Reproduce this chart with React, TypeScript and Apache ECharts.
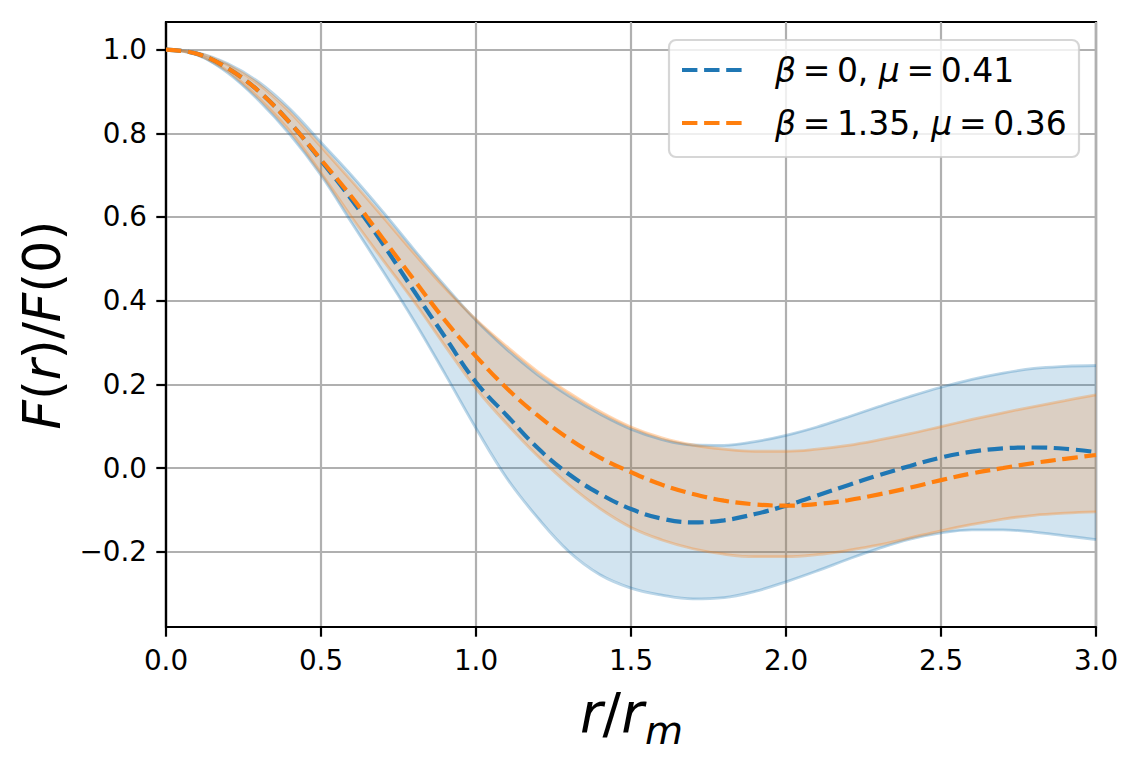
import React, { useEffect, useRef } from "react";
import * as echarts from "echarts";

// r / r_m sample positions
const rValues = [
  0.0, 0.1, 0.2, 0.3, 0.4, 0.5, 0.6, 0.7, 0.8, 0.9, 1.0, 1.1, 1.2, 1.3, 1.4, 1.5,
  1.6, 1.7, 1.8, 1.9, 2.0, 2.1, 2.2, 2.3, 2.4, 2.5, 2.6, 2.7, 2.8, 2.9, 3.0,
];

// beta = 0, mu = 0.41
const meanA = [
  1.0, 0.99, 0.955, 0.9, 0.825, 0.735, 0.64, 0.535, 0.423, 0.313, 0.205, 0.125,
  0.047, -0.015, -0.062, -0.098, -0.121, -0.13, -0.125, -0.11, -0.09, -0.066,
  -0.041, -0.017, 0.005, 0.025, 0.039, 0.047, 0.049, 0.046, 0.038,
];
const upperA = [
  1.0, 0.993, 0.966, 0.922, 0.858, 0.778, 0.698, 0.612, 0.522, 0.435, 0.353,
  0.283, 0.222, 0.172, 0.129, 0.093, 0.068, 0.055, 0.054, 0.063, 0.078, 0.098,
  0.122, 0.147, 0.171, 0.193, 0.212, 0.227, 0.238, 0.243, 0.245,
];
const lowerA = [
  1.0, 0.987, 0.944, 0.878, 0.797, 0.7, 0.585, 0.47, 0.352, 0.225, 0.095,
  -0.025, -0.12, -0.2, -0.255, -0.287, -0.304, -0.313, -0.31, -0.295, -0.272,
  -0.246, -0.218, -0.192, -0.17, -0.155, -0.148, -0.148, -0.153, -0.162, -0.171,
];

// beta = 1.35, mu = 0.36
const meanB = [
  1.0, 0.99, 0.955, 0.9, 0.825, 0.737, 0.647, 0.548, 0.45, 0.353, 0.267, 0.19,
  0.125, 0.07, 0.025, -0.01, -0.04, -0.062, -0.078, -0.087, -0.09, -0.086,
  -0.077, -0.063, -0.047, -0.029, -0.013, 0.0, 0.012, 0.022, 0.031,
];
const upperB = [
  1.0, 0.992, 0.963, 0.917, 0.85, 0.768, 0.685, 0.6, 0.513, 0.43, 0.355, 0.29,
  0.23, 0.18, 0.135, 0.098, 0.072, 0.055, 0.045, 0.04, 0.04, 0.045, 0.054, 0.067,
  0.082, 0.099, 0.116, 0.132, 0.147, 0.161, 0.175,
];
const lowerB = [
  1.0, 0.988, 0.948, 0.884, 0.805, 0.705, 0.598, 0.497, 0.398, 0.292, 0.19,
  0.105, 0.028, -0.04, -0.097, -0.142, -0.172, -0.193, -0.206, -0.212, -0.212,
  -0.207, -0.197, -0.184, -0.167, -0.15, -0.135, -0.122, -0.113, -0.108, -0.105,
];

const yTicks = [-0.2, 0.0, 0.2, 0.4, 0.6, 0.8, 1.0];
const labelA = "β\u2009=\u20090, μ\u2009=\u20090.41";
const labelB = "β\u2009=\u20091.35, μ\u2009=\u20090.36";

const C0 = "#1f77b4";
const C1 = "#ff7f0e";
const RGB0 = "31,119,180";
const RGB1 = "255,127,14";
const FONT = "DejaVu Sans";
const DASH = [15.4, 6.7];
const LW = 4.2;
const THIN = 2.2;

const pairs = (ys: number[]) => rValues.map((x, i) => [x, ys[i]]);

const fmtTick = (v: number) =>
  (v < -1e-9 ? "\u2212" : "") + Math.abs(v).toFixed(1);

// translucent band between lower and upper curves (fill + soft edges)
function band(key: string, lo: number[], hi: number[], rgb: string) {
  const edge = {
    type: "line",
    smooth: 0.4,
    symbol: "none",
    silent: true,
    lineStyle: { color: `rgba(${rgb},0.3)`, width: 2.8 },
    z: 3,
  };
  return [
    {
      name: `${key}-fill`,
      type: "custom",
      silent: true,
      clip: true,
      z: 2,
      data: [[0, 0]],
      encode: { x: 0, y: 1 },
      renderItem: (_params: any, api: any) => {
        const top = hi.map((v, i) => api.coord([rValues[i], v]));
        const bottom = lo.map((v, i) => api.coord([rValues[i], v])).reverse();
        return {
          type: "polygon",
          shape: { points: top.concat(bottom) },
          style: { fill: `rgba(${rgb},0.2)`, stroke: "none" },
        };
      },
    },
    { ...edge, name: `${key}-upper`, data: pairs(hi) },
    { ...edge, name: `${key}-lower`, data: pairs(lo) },
  ];
}

function meanLine(name: string, ys: number[], color: string, z: number) {
  return {
    name,
    type: "line",
    data: pairs(ys),
    smooth: 0.4,
    symbol: "none",
    silent: true,
    itemStyle: { color },
    lineStyle: { color, width: LW, type: DASH },
    z,
  };
}

function legendRow(y: number, color: string, label: string) {
  return [
    {
      type: "line",
      z: 100,
      silent: true,
      shape: { x1: 682, y1: y, x2: 748, y2: y },
      style: { stroke: color, lineWidth: LW, lineDash: DASH, lineCap: "butt" },
    },
    {
      type: "text",
      z: 101,
      silent: true,
      x: 775,
      y,
      style: {
        text: label.replace("β", "{i|β}").replace("μ", "{i|μ}"),
        fontFamily: FONT,
        fontSize: 33,
        fill: "#000",
        align: "left",
        verticalAlign: "middle",
        rich: { i: { fontFamily: FONT, fontSize: 33, fontStyle: "italic" } },
      },
    },
  ];
}

export default function App() {
  const ref = useRef<HTMLDivElement>(null);

  useEffect(() => {
    if (!ref.current) return;
    const chart = echarts.init(ref.current, null, { renderer: "svg" });
    const axisLabel = {
      fontSize: 27.8,
      fontFamily: FONT,
      color: "#000",
      margin: 19,
      formatter: fmtTick,
    };
    const axisLine = { show: true, onZero: false, lineStyle: { color: "#000", width: THIN } };
    const tick = { show: true, length: 9.7, lineStyle: { color: "#000", width: THIN } };
    const split = { show: true, lineStyle: { color: "#b0b0b0", width: THIN } };

    chart.setOption({
      animation: false,
      backgroundColor: "#fff",
      grid: {
        left: 166,
        top: 22,
        width: 930,
        height: 605,
        show: true,
        borderColor: "#000",
        borderWidth: THIN,
        backgroundColor: "transparent",
      },
      xAxis: {
        type: "value",
        min: 0,
        max: 3,
        interval: 0.5,
        axisLine,
        axisTick: tick,
        axisLabel,
        splitLine: split,
      },
      yAxis: {
        type: "value",
        min: -0.38,
        max: 1.066,
        splitNumber: 7,
        axisLine,
        axisTick: { ...tick, customValues: yTicks },
        axisLabel: { ...axisLabel, customValues: yTicks },
        splitLine: split,
      },
      graphic: [
        {
          type: "rect",
          z: 99,
          silent: true,
          shape: { x: 669, y: 40, width: 410, height: 117, r: 7 },
          style: { fill: "rgba(255,255,255,0.8)", stroke: "rgba(204,204,204,0.8)", lineWidth: THIN },
        },
        ...legendRow(70, C0, labelA),
        ...legendRow(123, C1, labelB),
        {
          type: "text",
          x: 42,
          y: 325,
          rotation: Math.PI / 2,
          silent: true,
          style: {
            text: "{i|F}({i|r})/{i|F}(0)",
            fontFamily: FONT,
            fontSize: 51,
            fill: "#000",
            align: "center",
            verticalAlign: "middle",
            rich: { i: { fontFamily: FONT, fontSize: 51, fontStyle: "italic" } },
          },
        },
        {
          type: "text",
          x: 580,
          y: 713,
          silent: true,
          style: {
            text: "{i|r}/{i|r}",
            fontFamily: FONT,
            fontSize: 55,
            fill: "#000",
            align: "left",
            verticalAlign: "middle",
            rich: { i: { fontFamily: FONT, fontSize: 55, fontStyle: "italic" } },
          },
        },
        {
          type: "text",
          x: 645,
          y: 730,
          silent: true,
          style: {
            text: "m",
            fontFamily: FONT,
            fontSize: 39,
            fontStyle: "italic",
            fill: "#000",
            align: "left",
            verticalAlign: "middle",
          },
        },
      ],
      series: [
        ...band("bandA", lowerA, upperA, RGB0),
        ...band("bandB", lowerB, upperB, RGB1),
        meanLine(labelA, meanA, C0, 5),
        meanLine(labelB, meanB, C1, 6),
      ],
    });
    return () => chart.dispose();
  }, []);

  return (
    <div
      ref={ref}
      style={{
        position: "fixed",
        left: 0,
        top: 0,
        width: 1137,
        height: 760,
        background: "#fff",
      }}
    />
  );
}
